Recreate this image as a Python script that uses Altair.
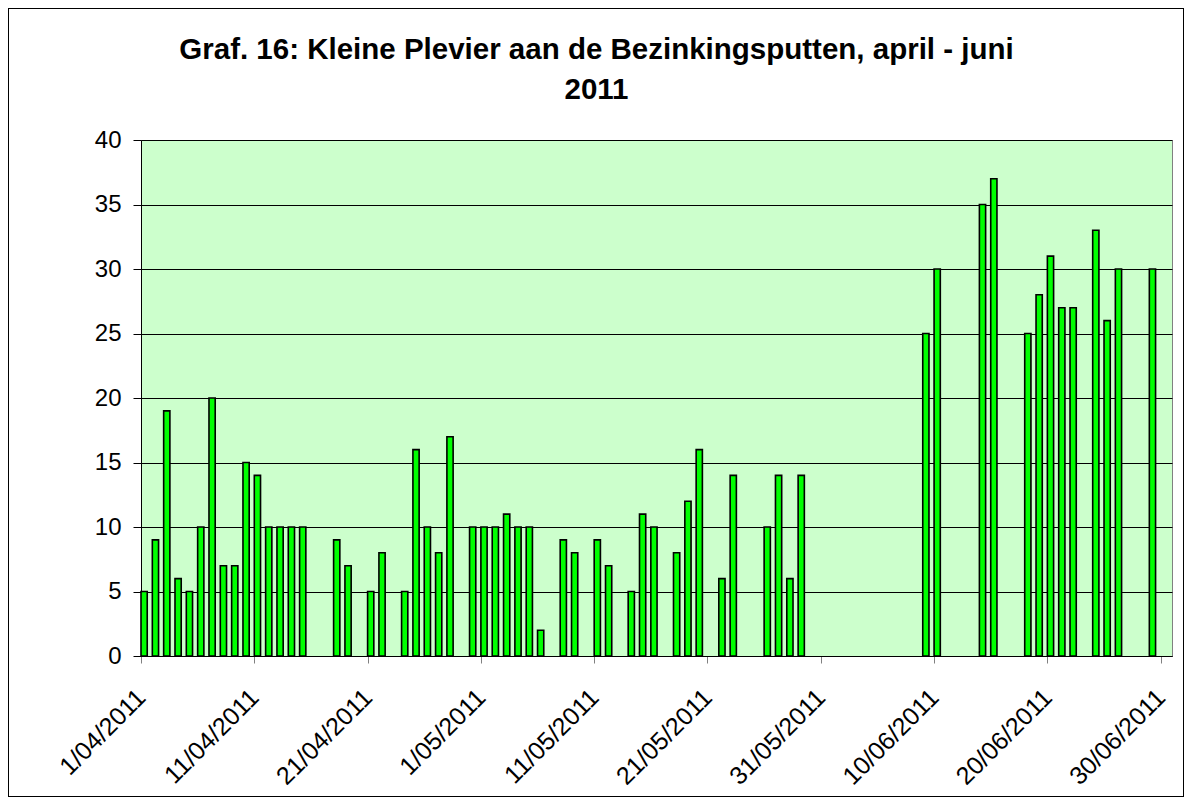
import json
import altair as alt
import pandas as pd

# ---- data ----
dates = [
    "2011-04-01", "2011-04-02", "2011-04-03", "2011-04-04", "2011-04-05",
    "2011-04-06", "2011-04-07", "2011-04-08", "2011-04-09", "2011-04-10",
    "2011-04-11", "2011-04-12", "2011-04-13", "2011-04-14", "2011-04-15",
    "2011-04-18", "2011-04-19", "2011-04-21", "2011-04-22", "2011-04-24",
    "2011-04-25", "2011-04-26", "2011-04-27", "2011-04-28", "2011-04-30",
    "2011-05-01", "2011-05-02", "2011-05-03", "2011-05-04", "2011-05-05",
    "2011-05-06", "2011-05-08", "2011-05-09", "2011-05-11", "2011-05-12",
    "2011-05-14", "2011-05-15", "2011-05-16", "2011-05-18", "2011-05-19",
    "2011-05-20", "2011-05-22", "2011-05-23", "2011-05-26", "2011-05-27",
    "2011-05-28", "2011-05-29", "2011-06-09", "2011-06-10", "2011-06-14",
    "2011-06-15", "2011-06-18", "2011-06-19", "2011-06-20", "2011-06-21",
    "2011-06-22", "2011-06-24", "2011-06-25", "2011-06-26", "2011-06-29",
]
counts = [
    5, 9, 19, 6, 5,
    10, 20, 7, 7, 15,
    14, 10, 10, 10, 10,
    9, 7, 5, 8, 5,
    16, 10, 8, 17, 10,
    10, 10, 11, 10, 10,
    2, 9, 8, 9, 7,
    5, 11, 10, 8, 12,
    16, 6, 14, 10, 14,
    6, 14, 25, 30, 35,
    37, 25, 28, 31, 27,
    27, 33, 26, 30, 30,
]
tick_labels = ["1/04/2011", "11/04/2011", "21/04/2011", "1/05/2011", "11/05/2011",
               "21/05/2011", "31/05/2011", "10/06/2011", "20/06/2011", "30/06/2011"]
y_ticks = [0, 5, 10, 15, 20, 25, 30, 35, 40]
title_lines = ["Graf. 16: Kleine Plevier aan de Bezinkingsputten, april - juni", "2011"]

start = pd.Timestamp("2011-04-01")
end = pd.Timestamp("2011-06-30")
n_days = (end - start).days + 1

df = pd.DataFrame({"date": pd.to_datetime(dates), "count": counts})
df["day"] = (df["date"] - start).dt.days
df = df[["day", "count"]]

tick_pos = [(pd.to_datetime(t, format="%d/%m/%Y") - start).days for t in tick_labels]
label_map = {str(p): l for p, l in zip(tick_pos, tick_labels)}
label_expr = json.dumps(label_map) + "[toString(datum.value)]"

FONT = "Liberation Sans"
W, H = 1031, 516
PAD = {"left": 133, "top": 132, "right": 12, "bottom": 141}

bars = alt.Chart(df).transform_calculate(
    day_end="datum.day + 0.55"
).mark_bar(
    color="#00FF00", stroke="#000000", strokeWidth=1.6
).encode(
    x=alt.X("day:Q",
            scale=alt.Scale(domain=[0, n_days], nice=False, zero=False),
            axis=alt.Axis(values=tick_pos, labelExpr=label_expr, title=None,
                          labelAngle=-45, labelAlign="right", labelBaseline="middle",
                          labelFont=FONT, labelFontSize=25, labelColor="#000000",
                          labelPadding=30, tickSize=7, tickColor="#808080",
                          domainColor="#000000", grid=False, labelOverlap=False,
                          labelFlush=False, labelBound=False)),
    x2="day_end:Q",
    y=alt.Y("count:Q",
            scale=alt.Scale(domain=[0, 40], nice=False),
            axis=alt.Axis(values=y_ticks, title=None, labelFont=FONT, labelFontSize=24,
                          labelColor="#000000", labelPadding=12, tickSize=8,
                          tickColor="#000000", domainColor="#000000",
                          grid=True, gridColor="#000000", gridWidth=1)),
    y2=alt.datum(0),
)

frame = alt.Chart(df).mark_rect(
    fill=None, stroke="#000000", strokeWidth=1, clip=False
).encode(
    x=alt.value(-PAD["left"] + 0.5), x2=alt.value(W + PAD["right"] - 0.5),
    y=alt.value(-PAD["top"] + 0.5), y2=alt.value(H + PAD["bottom"] - 0.5),
)

chart = alt.layer(frame, bars).properties(
    width=W, height=H,
    padding=PAD,
    background="#FFFFFF",
    autosize=alt.AutoSizeParams(type="none"),
    title=alt.TitleParams(title_lines, font=FONT, fontSize=29.5, fontWeight="bold",
                          color="#000000", anchor="middle", dx=-60, offset=0,
                          dy=120, baseline="alphabetic", lineHeight=40),
).configure_view(
    fill="#CCFFCC", stroke="#808080", strokeWidth=1
)

chart.save("out.html", embed_options={"renderer": "svg", "actions": False})
